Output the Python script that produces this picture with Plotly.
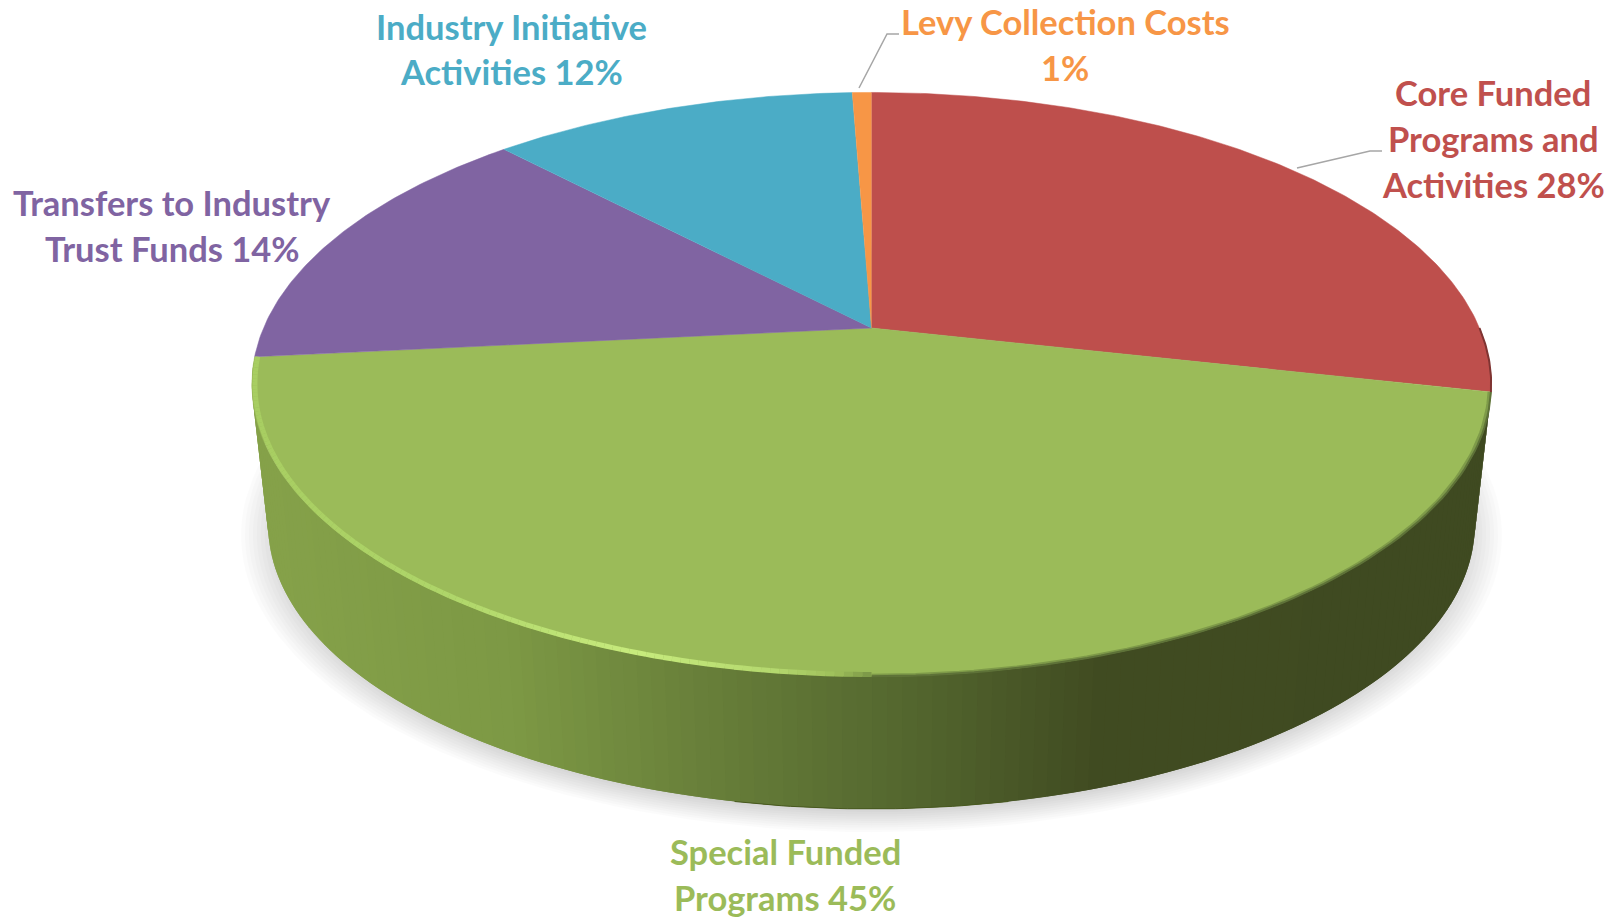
import numpy as np
import plotly.graph_objects as go

categories = ["Core Funded Programs and Activities", "Special Funded Programs",
              "Transfers to Industry Trust Funds", "Industry Initiative Activities",
              "Levy Collection Costs"]
shares = [28.5, 44.9, 14.5, 11.5, 0.6]
slice_colors = ["#BE4F4C", "#9BBB59", "#8064A2", "#4BACC6", "#F79646"]
label_colors = ["#C0504D", "#9BBB59", "#8064A2", "#4BACC6", "#F79646"]
label_lines = [["Core Funded", "Programs and", "Activities 28%"],
               ["Special Funded", "Programs 45%"],
               ["Transfers to Industry", "Trust Funds 14%"],
               ["Industry Initiative", "Activities 12%"],
               ["Levy Collection Costs", "1%"]]
label_x = [1493, 785, 172, 511, 1065]
label_y = [[92, 138, 184], [851, 897], [202, 248], [26, 71], [21, 67]]
leader_x = [[1297, 1370, 1382], [859, 887, 899]]
leader_y = [[168, 151, 151], [88, 34, 34]]

FONT = "Lato"
FONT_SIZE = 34.5
CX = 871.5
K = 0.193
TOP = dict(apex=328.0, sx=608.0, sy=281.0)
BOT = dict(apex=470.0, sx=592.0, sy=273.5)


def project(pos, lev):
    """pos = cumulative share (0-100), clockwise from the top; perspective circle."""
    a = 2 * np.pi * np.asarray(pos, dtype=float) / 100
    x, y = np.sin(a), np.cos(a)
    w = 1 + K * y
    return CX + lev["sx"] * x / w, lev["apex"] - lev["sy"] * y / w


def mix(stops, x):
    xs = [s[0] for s in stops]
    rgb = [np.interp(x, xs, [int(s[1][i:i + 2], 16) for s in stops]) for i in (1, 3, 5)]
    return "rgb(%d,%d,%d)" % tuple(rgb)


edges = np.concatenate([[0], np.cumsum(shares)])
edges = edges / edges[-1] * 100
fig = go.Figure()


def poly(x, y, color, lw=0.0):
    fig.add_trace(go.Scatter(x=x, y=y, mode="lines", fill="toself", fillcolor=color,
                             line=dict(color=color, width=lw), hoverinfo="skip", showlegend=False))


def stroke(x, y, color, w):
    fig.add_trace(go.Scatter(x=x, y=y, mode="lines", line=dict(color=color, width=w),
                             hoverinfo="skip", showlegend=False))


# soft ground shadow
t = np.linspace(0, 100, 181)
for i in range(12):
    grow = 1.045 - 0.0065 * i
    sx_, sy_ = project(t, dict(apex=BOT["apex"] + 8, sx=BOT["sx"] * grow, sy=BOT["sy"] * grow))
    poly(sx_, sy_, "rgba(0,0,0,0.014)", 0)

# side wall of the front slice, shaded from left to right
side_stops = [(250, "#86A24A"), (500, "#7D9945"), (700, "#687F3A"), (900, "#54672F"),
              (1090, "#414C22"), (1500, "#3F4A21")]
g0, g1 = edges[1], edges[2]
steps = np.linspace(g1, g0, 141)
for i in range(len(steps) - 1):
    p, q = steps[i], steps[min(i + 2, len(steps) - 1)]
    arc = np.linspace(p, q, 4)
    xa, ya = project(arc, TOP)
    xb, yb = project(arc[::-1], BOT)
    poly(list(xa) + list(xb), list(ya) + list(yb), mix(side_stops, project(steps[i], TOP)[0]))

# darker foot line along the bottom of the wall
foot = np.linspace(47, 53, 30)
stroke(*project(foot, BOT), "#48591F", 1)

# top faces
for s, e, c in zip(edges[:-1], edges[1:], slice_colors):
    arc = np.linspace(s, e, max(int(e - s) * 6, 8))
    ax, ay = project(arc, TOP)
    poly([CX] + list(ax), [TOP["apex"]] + list(ay), c, 0.5)

# rim: soft dark line on the right, bright bevel on the left and front
dark = np.linspace(g0, 50, 70)
dx, dy = project(dark, dict(apex=TOP["apex"], sx=TOP["sx"] * 0.997, sy=TOP["sy"] * 0.997))
stroke(dx, dy, "#7E9A49", 3)
dx, dy = project(dark, TOP)
stroke(dx, dy, "#5E7238", 2)

rim_stops = [(250, "#A8CE62"), (450, "#AFD66A"), (640, "#C8EC7E"), (780, "#B4D86E"),
             (840, "#9FC05B"), (872, "#7E9A49")]
rim = np.linspace(50, g1, 120)
inner = dict(apex=TOP["apex"], sx=TOP["sx"] * 0.995, sy=TOP["sy"] * 0.995)
for p, q in zip(rim[:-1], rim[1:]):
    rx, ry = project([p, q], inner)
    stroke(rx, ry, mix(rim_stops, rx[0]), 5)

# dark edge on the right of the first slice
red_edge = np.linspace(25, edges[1], 25)
stroke(*project(red_edge, TOP), "#7F3432", 2)

# leader lines
for lx, ly in zip(leader_x, leader_y):
    stroke(lx, ly, "#A6A6A6", 1.5)

annotations = []
for lines, x, ys, col in zip(label_lines, label_x, label_y, label_colors):
    for text, y in zip(lines, ys):
        annotations.append(dict(x=x, y=y, text=text, showarrow=False, xanchor="center", yanchor="middle",
                                font=dict(family=FONT, size=FONT_SIZE, color=col, weight="bold")))

fig.update_layout(width=1612, height=918, margin=dict(l=0, r=0, t=0, b=0),
                  paper_bgcolor="white", plot_bgcolor="white", showlegend=False,
                  annotations=annotations,
                  xaxis=dict(range=[0, 1612], visible=False, fixedrange=True),
                  yaxis=dict(range=[918, 0], visible=False, fixedrange=True))
fig.write_html("out.html", config={"displayModeBar": False},
               post_script="document.body.style.margin='0';")
